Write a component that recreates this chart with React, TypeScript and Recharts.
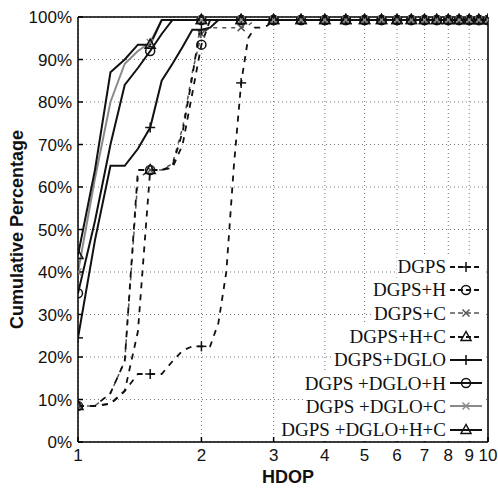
import React from 'react';
import { LineChart, Line, XAxis, YAxis, CartesianGrid, Legend } from 'recharts';

// HDOP sample positions
const hdop = [1, 1.1, 1.2, 1.3, 1.4, 1.5, 1.6, 1.7, 1.8, 1.9, 2, 2.1, 2.2, 2.3, 2.4, 2.5, 2.6, 2.7, 2.8, 2.9, 3, 3.5, 4, 4.5, 5, 5.5, 6, 6.5, 7, 7.5, 8, 8.5, 9, 9.5, 10];
const xTicks = [1, 2, 3, 4, 5, 6, 7, 8, 9, 10];
const yTicks = [0, 10, 20, 30, 40, 50, 60, 70, 80, 90, 100];

const TAIL = 99.3;
const tail = (n: number) => Array(n).fill(TAIL);

// cumulative percentages (%)
const dgps = [8.5, 8.5, 9, 12, 16, 16, 16, 19, 21.5, 22.5, 22.5, 22.5, 28, 40, 65, 84.5, 95, 97.5, 97.5, 98, ...tail(15)];
const dgpsH = [8.5, 8.5, 9, 12, 26, 64, 64, 64.5, 70, 82, 93.5, ...tail(24)];
const dgpsC = [8.5, 8.5, 11.5, 19, 62, 64, 64, 65.5, 74, 87, 96, 97.5, 97.5, 97.5, 97.5, 97.5, 98, ...tail(18)];
const dgpsHC = [8.5, 8.5, 11.5, 19, 64, 64, 64, 65, 73, 86, ...tail(25)];
const dglo = [24.5, 47.5, 65, 65, 69, 74, 85, 89, 93, 97, 97, 97.5, ...tail(23)];
const dgloH = [35, 52, 70, 84, 88, 92, 96, ...tail(28)];
const dgloC = [40, 62, 80, 89, 92, 94, ...tail(29)];
const dgloHC = [44, 64, 87, 90, 93.5, 93.5, ...tail(29)];

const seriesNames = ['DGPS', 'DGPS+H', 'DGPS+C', 'DGPS+H+C', 'DGPS+DGLO', 'DGPS +DGLO+H', 'DGPS +DGLO+C', 'DGPS +DGLO+H+C'];
const seriesValues = [dgps, dgpsH, dgpsC, dgpsHC, dglo, dgloH, dgloC, dgloHC];

type MarkerKind = 'plus' | 'circle' | 'cross' | 'triangle';
const styles: { marker: MarkerKind; stroke: string; width: number; dash?: string }[] = [
  { marker: 'plus', stroke: '#111', width: 1.8, dash: '6 6' },
  { marker: 'circle', stroke: '#111', width: 1.8, dash: '6 6' },
  { marker: 'cross', stroke: '#555', width: 1.5, dash: '4 5' },
  { marker: 'triangle', stroke: '#111', width: 1.8, dash: '6 6' },
  { marker: 'plus', stroke: '#111', width: 2 },
  { marker: 'circle', stroke: '#111', width: 2 },
  { marker: 'cross', stroke: '#8a8a8a', width: 2 },
  { marker: 'triangle', stroke: '#111', width: 2 },
];

const series = seriesNames.map((name, i) => ({
  name,
  ...styles[i],
  data: hdop.map((x, j) => ({ x, y: seriesValues[i][j] })),
}));

function drawMarker(kind: MarkerKind, cx: number, cy: number, color: string, key: string) {
  const sw = 1.5;
  switch (kind) {
    case 'plus':
      return (
        <g key={key}>
          <line x1={cx - 5} y1={cy} x2={cx + 5} y2={cy} stroke={color} strokeWidth={sw} />
          <line x1={cx} y1={cy - 5} x2={cx} y2={cy + 5} stroke={color} strokeWidth={sw} />
        </g>
      );
    case 'circle':
      return <circle key={key} cx={cx} cy={cy} r={4.5} fill="none" stroke={color} strokeWidth={sw} />;
    case 'cross':
      return (
        <g key={key}>
          <line x1={cx - 3.5} y1={cy - 3.5} x2={cx + 3.5} y2={cy + 3.5} stroke={color} strokeWidth={sw} />
          <line x1={cx - 3.5} y1={cy + 3.5} x2={cx + 3.5} y2={cy - 3.5} stroke={color} strokeWidth={sw} />
        </g>
      );
    default:
      return (
        <polygon
          key={key}
          points={`${cx},${cy - 5.5} ${cx - 5},${cy + 3.5} ${cx + 5},${cy + 3.5}`}
          fill="none"
          stroke={color}
          strokeWidth={sw}
        />
      );
  }
}

const sans = '"Liberation Sans", Arial, Helvetica, sans-serif';
const serif = '"Liberation Serif", "Times New Roman", serif';

const renderLegend = () => (
  <div style={{ display: 'flex', flexDirection: 'column', alignItems: 'flex-end' }}>
    {series.map((s) => (
      <div key={s.name} style={{ display: 'flex', alignItems: 'center', height: 23.3, background: '#fff' }}>
        <span style={{ fontFamily: serif, fontSize: 19, color: '#111', lineHeight: '23px', whiteSpace: 'pre' }}>{s.name}</span>
        <svg width={34} height={20} style={{ marginLeft: 3, display: 'block' }}>
          <line x1={1} y1={10} x2={33} y2={10} stroke={s.stroke} strokeWidth={s.width} strokeDasharray={s.dash ? '5 3' : undefined} />
          {drawMarker(s.marker, 17, 10, s.stroke, 'm')}
        </svg>
      </div>
    ))}
  </div>
);

export default function App() {
  return (
    <div style={{ position: 'absolute', left: 0, top: 0, background: '#fff' }}>
      <LineChart width={498} height={488} margin={{ top: 0, right: 0, bottom: 0, left: 0 }}>
        <CartesianGrid stroke="#777" strokeDasharray="1 3" strokeWidth={1} />
        <XAxis
          dataKey="x"
          type="number"
          scale="log"
          domain={[1, 10]}
          ticks={xTicks}
          interval={0}
          allowDataOverflow
          height={46}
          tickSize={-5}
          tickMargin={12}
          stroke="#000"
          strokeWidth={1.5}
          tick={{ fill: '#111', fontSize: 17, fontFamily: sans }}
          label={{ value: 'HDOP', position: 'insideBottom', offset: 5, dx: 5, style: { fontWeight: 700, fontSize: 18, fill: '#111', fontFamily: sans } }}
        />
        <XAxis
          xAxisId="top"
          orientation="top"
          type="number"
          scale="log"
          domain={[1, 10]}
          ticks={xTicks}
          interval={0}
          allowDataOverflow
          height={17}
          tickSize={-5}
          tick={false}
          stroke="#000"
          strokeWidth={1.5}
        />
        <YAxis
          type="number"
          domain={[0, 100]}
          ticks={yTicks}
          interval={0}
          width={78}
          tickSize={-5}
          tickMargin={11}
          stroke="#000"
          strokeWidth={1.5}
          tickFormatter={(v: number) => `${v}%`}
          tick={{ fill: '#111', fontSize: 17, fontFamily: sans }}
          label={{ value: 'Cumulative Percentage', angle: -90, position: 'insideLeft', offset: 17, style: { textAnchor: 'middle', fontWeight: 700, fontSize: 18, fill: '#111', fontFamily: sans } }}
        />
        <YAxis
          yAxisId="right"
          orientation="right"
          type="number"
          domain={[0, 100]}
          ticks={yTicks}
          interval={0}
          width={10}
          tickSize={-5}
          tick={false}
          stroke="#000"
          strokeWidth={1.5}
        />
        {series.map((s) => (
          <Line
            key={s.name}
            data={s.data}
            dataKey="y"
            name={s.name}
            type="linear"
            stroke={s.stroke}
            strokeWidth={s.width}
            strokeDasharray={s.dash}
            isAnimationActive={false}
            activeDot={false}
            dot={(p: any) => {
              const x = p.payload?.x ?? 0;
              const key = `${s.name}-${p.index}`;
              if (Math.abs(x * 2 - Math.round(x * 2)) > 1e-6 || p.cx == null) return <g key={key} />;
              return drawMarker(s.marker, p.cx, p.cy, s.stroke, key);
            }}
          />
        ))}
        <Legend
          layout="vertical"
          align="center"
          verticalAlign="middle"
          content={renderLegend}
          wrapperStyle={{ left: 0, top: 255, width: 483, margin: 0, padding: 0 }}
        />
      </LineChart>
    </div>
  );
}
